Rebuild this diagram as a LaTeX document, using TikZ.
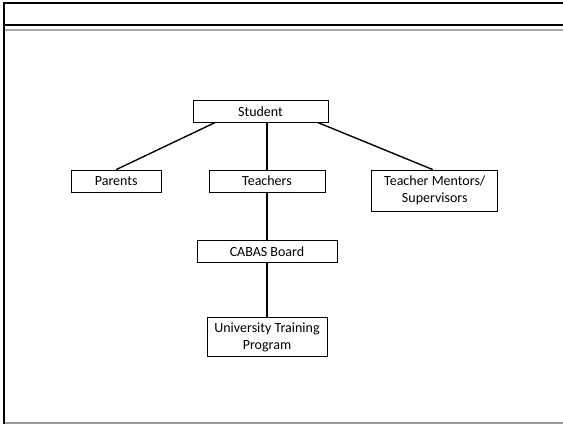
\documentclass[tikz,border=0pt]{standalone}
\usepackage{fontspec}
\setmainfont{Carlito}
\usepackage{tikz}
\usetikzlibrary{positioning, calc}
\tikzset{
    box/.style={draw, line width=0.8pt, inner sep=0pt, align=center,
      font=\fontsize{14}{17}\selectfont},
    link/.style={line width=1.4pt},
    frame/.style={line width=1.4pt},
}

\begin{document}
\begin{tikzpicture}[x=1pt, y=1pt]
    \useasboundingbox (0,0) rectangle (563,424);

    % slide frame
    \draw[line width=2pt] (4,0) -- (4,422);
    \draw[frame] (3,421) -- (563,421);
    \draw[frame] (3,399) -- (563,399);
    \draw[frame, gray!70] (5,394) -- (563,394);
    \draw[frame, gray!80] (5,1) -- (563,1);

    \node[box, minimum width=116pt, minimum height=22pt] (teachers) at (267,243) {Teachers};
    \node[box, minimum width=135pt, minimum height=22pt, above=47pt of teachers, xshift=-6.5pt] (student) {Student};
    \node[box, minimum width=90pt, minimum height=22pt, left=47pt of teachers] (parents) {Parents};
    \node[box, minimum width=126pt, minimum height=41pt, right=46pt of teachers.north east, anchor=north west] (mentors) {Teacher Mentors/\\Supervisors};
    \node[box, minimum width=140pt, minimum height=22pt, below=48pt of teachers] (cabas) {CABAS Board};
    \node[box, minimum width=120pt, minimum height=39pt, below=54pt of cabas] (univ) {University Training\\Program};

    \draw[link] ([xshift=-45.5pt]student.south) -- (parents.north);
    \draw[link] ([xshift=6.5pt]student.south) -- (teachers.north);
    \draw[link] ([xshift=57.5pt]student.south) -- ([xshift=-2pt]mentors.north);
    \draw[link] (teachers) -- (cabas);
    \draw[link] (cabas) -- (univ);
\end{tikzpicture}
\end{document}
